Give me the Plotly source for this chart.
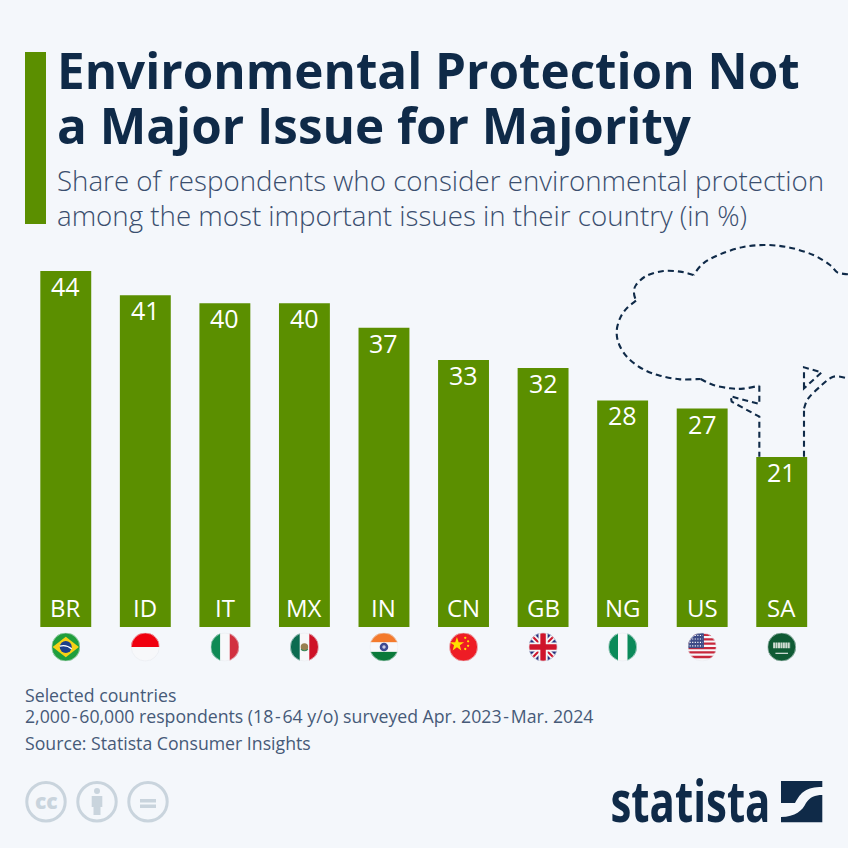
from urllib.parse import quote
import plotly.graph_objects as go

countries = ["BR", "ID", "IT", "MX", "IN", "CN", "GB", "NG", "US", "SA"]
shares = [44, 41, 40, 40, 37, 33, 32, 28, 27, 21]

title_lines = ["Environmental Protection Not", "a Major Issue for Majority"]
subtitle_lines = [
    "Share of respondents who consider environmental protection",
    "among the most important issues in their country (in %)",
]
note_lines = [
    "Selected countries",
    "2,000\u200a-\u200a60,000 respondents (18\u200a-\u200a64 y/o) surveyed Apr. 2023\u200a-\u200aMar. 2024",
    "Source: Statista Consumer Insights",
]

SIZE = 848
BG = "#f4f7fb"
GREEN = "#5b8f00"
NAVY = "#0f2a48"
SLATE = "#465a78"
SUBTITLE = "#3a4e6e"
ICON = "#c9d4dd"
FONT = "Open Sans"

# flag artwork, drawn in a 100x100 box and clipped to a circle
FLAGS = {
    "BR": '<rect width="100" height="100" fill="#1f9e3c"/><path d="M50 14 96 50 50 86 4 50Z" fill="#f7d116"/><circle cx="50" cy="50" r="21" fill="#1b3f8b"/><path d="M29 47Q52 40 71 57" stroke="#fff" stroke-width="4" fill="none"/>',
    "ID": '<rect width="100" height="50" fill="#f0000f"/><rect y="50" width="100" height="50" fill="#f7f8fa"/>',
    "IT": '<rect width="34" height="100" fill="#0f8a55"/><rect x="34" width="33" height="100" fill="#f7f8fa"/><rect x="67" width="33" height="100" fill="#d2303f"/>',
    "MX": '<rect width="34" height="100" fill="#0b6b50"/><rect x="34" width="33" height="100" fill="#f7f8fa"/><rect x="67" width="33" height="100" fill="#ce1126"/><circle cx="50" cy="50" r="13" fill="#9a8152"/><path d="M38 58Q50 68 62 58" stroke="#3d8a5c" stroke-width="4" fill="none"/>',
    "IN": '<rect width="100" height="34" fill="#f47a2c"/><rect y="34" width="100" height="33" fill="#f7f8fa"/><rect y="67" width="100" height="33" fill="#0a7a3a"/><circle cx="50" cy="50" r="15" fill="#3d4a92"/><circle cx="50" cy="50" r="6" fill="#c8cce6"/>',
    "CN": '<rect width="100" height="100" fill="#ee1c25"/><path d="M27 15 33 33 52 33 37 44 42 62 27 51 12 62 17 44 2 33 21 33Z" fill="#ffe000"/><circle cx="56" cy="18" r="4" fill="#ffe000"/><circle cx="66" cy="30" r="4" fill="#ffe000"/><circle cx="66" cy="46" r="4" fill="#ffe000"/><circle cx="56" cy="57" r="4" fill="#ffe000"/>',
    "GB": '<rect width="100" height="100" fill="#26307c"/><path d="M0 0 100 100M100 0 0 100" stroke="#f4f4f6" stroke-width="20"/><path d="M0 0 100 100M100 0 0 100" stroke="#cf142b" stroke-width="7"/><path d="M50 0V100M0 50H100" stroke="#f4f4f6" stroke-width="32"/><path d="M50 0V100M0 50H100" stroke="#cf142b" stroke-width="19"/>',
    "NG": '<rect width="34" height="100" fill="#0b8a5a"/><rect x="34" width="33" height="100" fill="#f7f8fa"/><rect x="67" width="33" height="100" fill="#0b8a5a"/>',
    "US": '<rect width="100" height="100" fill="#f7f8fa"/><path d="M0 8H100M0 23H100M0 38H100M0 54H100M0 69H100M0 85H100" stroke="#c8283c" stroke-width="8"/><rect width="56" height="54" fill="#3c4a86"/><path d="M6 10H52M6 22H52M6 34H52M6 46H52" stroke="#fff" stroke-width="4" stroke-dasharray="4 5"/>',
    "SA": '<rect width="100" height="100" fill="#0f5a34"/><path d="M20 44H80" stroke="#cfdcd3" stroke-width="20" stroke-dasharray="7 1.5"/><rect x="28" y="70" width="44" height="4" fill="#e6ece8"/>',
}


def px(x):
    return x / SIZE


def py(y):
    return 1 - y / SIZE


def to_path(pts, close=False):
    return "M" + " L".join(f"{px(x):.5f},{py(y):.5f}" for x, y in pts) + (" Z" if close else "")


def smooth(pts):
    # catmull-rom through hand picked points, keeps the outline round
    out = f"M{px(pts[0][0]):.5f},{py(pts[0][1]):.5f}"
    for i in range(len(pts) - 1):
        p0 = pts[max(i - 1, 0)]
        p1, p2 = pts[i], pts[i + 1]
        p3 = pts[min(i + 2, len(pts) - 1)]
        c1 = (p1[0] + (p2[0] - p0[0]) / 6, p1[1] + (p2[1] - p0[1]) / 6)
        c2 = (p2[0] - (p3[0] - p1[0]) / 6, p2[1] - (p3[1] - p1[1]) / 6)
        out += f" C{px(c1[0]):.5f},{py(c1[1]):.5f} {px(c2[0]):.5f},{py(c2[1]):.5f} {px(p2[0]):.5f},{py(p2[1]):.5f}"
    return out


def zoomed(pts):
    return [(600 + x / 3, 235 + y / 3) for x, y in pts]


def label(text, x, y, size, color, weight=400, anchor="left", family=FONT):
    return dict(text=text, x=px(x), y=py(y), xref="paper", yref="paper", showarrow=False,
                xanchor=anchor, yanchor="middle", borderpad=0,
                font=dict(size=size, color=color, family=family, weight=weight))


fig = go.Figure(go.Bar(
    x=countries, y=shares, width=0.64, marker=dict(color=GREEN, line=dict(width=0)),
    hoverinfo="skip",
))

annotations = []
for line, y in zip(title_lines, [69, 124]):
    annotations.append(label(line, 56, y, 49.4, NAVY, 700))
for line, y in zip(subtitle_lines, [179.5, 214.5]):
    annotations.append(label(line, 56, y, 27.7, SUBTITLE, 300))
for line, y in zip(note_lines, [695, 716, 743]):
    annotations.append(label(line, 24, y, 17.7, SLATE))
for code, share in zip(countries, shares):
    annotations.append(dict(text=code, x=code, y=0, xref="x", yref="y", showarrow=False,
                            yanchor="bottom", yshift=1,
                            font=dict(size=24, color="white", family=FONT)))
    annotations.append(dict(text=str(share), x=code, y=share, xref="x", yref="y", showarrow=False,
                            yanchor="top", yshift=4,
                            font=dict(size=25, color="white", family=FONT)))
annotations.append(label("cc", 46, 800.5, 21, ICON, 800, "center"))
annotations.append(label("statista", 690.5, 799, 58, NAVY, 700, "center"))

shapes = [
    dict(type="rect", xref="paper", yref="paper", x0=px(25), x1=px(46), y0=py(224), y1=py(52),
         fillcolor=GREEN, line=dict(width=0)),
]

# dashed tree growing out of the last bar
tree_line = dict(color=NAVY, width=2.1, dash="6px,4px")
crown = zoomed([(744, 118), (712, 112), (690, 90), (640, 60), (570, 38), (500, 30), (430, 36),
                (360, 58), (310, 85), (280, 120)])
crown_left = zoomed([(280, 120), (240, 110), (190, 108), (140, 122), (108, 150), (102, 175), (108, 197)])
crown_low = zoomed([(108, 197), (80, 220), (60, 250), (50, 290), (58, 330), (85, 370), (130, 403),
                    (180, 422), (240, 433), (302, 432)])
crown_end = zoomed([(302, 432), (340, 450), (390, 460), (430, 461), (478, 452)])
trunk_left = zoomed([(478, 452), (478, 507), (392, 484), (395, 500), (478, 545), (478, 665)])
trunk_right = zoomed([(612, 665), (612, 520)])
branch = zoomed([(612, 520), (625, 490), (660, 455), (700, 425), (744, 430)])
notch = zoomed([(612, 460), (612, 397), (665, 412)])
for part in [crown, crown_left, crown_low, crown_end, branch]:
    shapes.append(dict(type="path", xref="paper", yref="paper", path=smooth(part), line=tree_line))
for part in [trunk_left, trunk_right]:
    shapes.append(dict(type="path", xref="paper", yref="paper", path=to_path(part), line=tree_line))
shapes.append(dict(type="path", xref="paper", yref="paper", path=to_path(notch, True), line=tree_line))

# licence icons
for cx in [46, 97, 148]:
    shapes.append(dict(type="circle", xref="paper", yref="paper", x0=px(cx - 19.2), x1=px(cx + 19.2),
                       y0=py(821), y1=py(782.5), line=dict(color=ICON, width=3)))
shapes.append(dict(type="circle", xref="paper", yref="paper", x0=px(94), x1=px(100), y0=py(794), y1=py(788),
                   fillcolor=ICON, line=dict(width=0)))
shapes.append(dict(type="path", xref="paper", yref="paper", line=dict(width=0), fillcolor=ICON,
                   path=to_path([(91.7, 796), (102.3, 796), (102.3, 807), (100.5, 807), (100.5, 815), (93.5, 815), (93.5, 807), (91.7, 807)], True)))
for y0, y1 in [(799, 802.5), (804.5, 808)]:
    shapes.append(dict(type="rect", xref="paper", yref="paper", x0=px(140), x1=px(156), y0=py(y1), y1=py(y0),
                       fillcolor=ICON, line=dict(width=0)))

# logo mark
shapes.append(dict(type="path", xref="paper", yref="paper", line=dict(width=0), fillcolor=NAVY,
                   path=f"M{px(781)},{py(781)} L{px(822.3)},{py(781)} L{px(822.3)},{py(787)} "
                        f"C{px(806)},{py(787)} {px(801)},{py(792)} {px(795)},{py(803)} L{px(781)},{py(803)} Z"))
shapes.append(dict(type="path", xref="paper", yref="paper", line=dict(width=0), fillcolor=NAVY,
                   path=f"M{px(822.3)},{py(795)} L{px(822.3)},{py(822.3)} L{px(781)},{py(822.3)} L{px(781)},{py(817)} "
                        f"C{px(795)},{py(817)} {px(803)},{py(810)} {px(806)},{py(803)} C{px(810)},{py(797)} {px(815)},{py(795)} {px(822.3)},{py(795)} Z"))

images = []
for i, code in enumerate(countries):
    svg = ('<svg xmlns="http://www.w3.org/2000/svg" viewBox="0 0 100 100">'
           '<clipPath id="c"><circle cx="50" cy="50" r="50"/></clipPath>'
           f'<g clip-path="url(#c)">{FLAGS[code]}</g>'
           '<circle cx="50" cy="50" r="49" fill="none" stroke="#e6eaef" stroke-width="2"/></svg>')
    images.append(dict(source="data:image/svg+xml," + quote(svg), xref="x", yref="paper", x=code, y=py(647),
                       sizex=0.36, sizey=29 / SIZE, xanchor="center", yanchor="middle", sizing="contain", layer="above"))

fig.update_layout(
    width=SIZE, height=SIZE, autosize=False,
    margin=dict(l=0, r=0, t=0, b=0),
    paper_bgcolor=BG, plot_bgcolor=BG,
    showlegend=False, bargap=0.36,
    font=dict(family=FONT),
    xaxis=dict(domain=[px(26), px(821.5)], visible=False, categoryorder="array", categoryarray=countries),
    yaxis=dict(domain=[py(627), py(271)], range=[0, 44], visible=False),
    annotations=annotations, shapes=shapes, images=images,
)

# browser default body margin would push the chart 8px off the page,
# the logo word is squeezed to its narrow width
post = """
document.body.style.margin = '0';
document.querySelectorAll('.annotation-text').forEach(function (t) {
    if (t.textContent === 'statista') {
        t.setAttribute('textLength', '160');
        t.setAttribute('lengthAdjust', 'spacingAndGlyphs');
    }
});
"""
fig.write_html("out.html", config={"displayModeBar": False}, post_script=post)
